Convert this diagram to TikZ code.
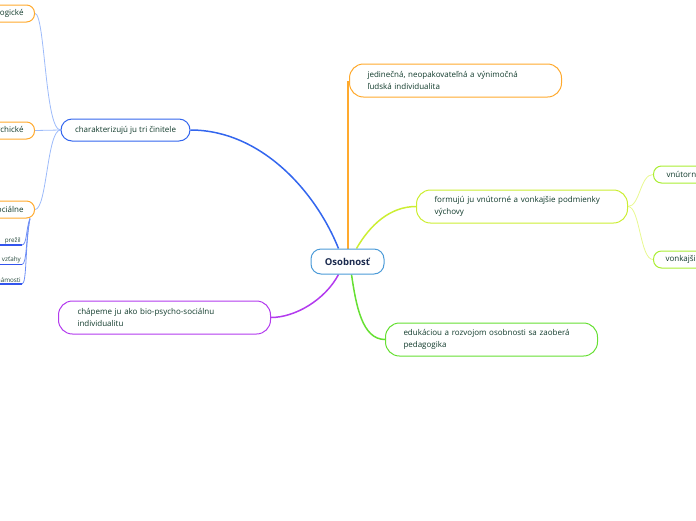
\documentclass[tikz,border=0pt]{standalone}
\usepackage{fontspec}
\setmainfont{Open Sans}
\usetikzlibrary{backgrounds}
\definecolor{txt}{HTML}{113B2C}
\definecolor{navy}{HTML}{1B2A4E}
\definecolor{cblue}{HTML}{4C9BD8}
\definecolor{dblue}{HTML}{3366EE}
\definecolor{lblue}{HTML}{9DBBFA}
\definecolor{ublue}{HTML}{3355EE}
\definecolor{mblue}{HTML}{6F8FF5}
\definecolor{orng}{HTML}{FFAA2E}
\definecolor{ylw}{HTML}{CCEE33}
\definecolor{lylw}{HTML}{E8F890}
\definecolor{lime}{HTML}{AAEE33}
\definecolor{grn}{HTML}{66E033}
\definecolor{purp}{HTML}{B33BEE}
\begin{document}
\begin{tikzpicture}[x=1pt,y=-1pt,
  base/.style={draw, fill=white, line width=1pt, text=txt, font=\fontsize{8}{11.5}\selectfont, inner ysep=0pt},
  widebox/.style={base, rounded corners=14pt, minimum height=33pt, text width=#1, align=left, inner xsep=18pt, anchor=west},
  smallbox/.style={base, rounded corners=8pt, minimum height=17pt},
  leaf/.style={font=\fontsize{6.3}{7}\selectfont, text=txt!85!gray, inner sep=1pt, anchor=south east},
  main/.style={line width=1.5pt},
  sub/.style={line width=0.8pt}
]
\useasboundingbox (0,0) rectangle (696,520);
\clip (0,0) rectangle (696,520);

\node[draw=cblue, fill=white, line width=1pt, rounded corners=10pt, minimum width=73pt, minimum height=25pt,
  font=\bfseries\fontsize{9.5}{11}\selectfont, text=navy] (c) at (347.5,261.5) {Osobnosť};

\node[smallbox, draw=dblue, minimum width=129pt, minimum height=22pt, rounded corners=11pt] (ch) at (125.5,130) {charakterizujú ju tri činitele};
\node[widebox=176pt, draw=orng] (j) at (349,80.5) {jedinečná, neopakovateľná a výnimočná\\ľudská individualita};
\node[widebox=175pt, draw=ylw] (f) at (416,206.5) {formujú ju vnútorné a vonkajšie podmienky\\výchovy};
\node[widebox=176pt, draw=grn] (e) at (385,339.5) {edukáciou a rozvojom osobnosti sa zaoberá\\pedagogika};
\node[widebox=174pt, draw=purp, inner xsep=19pt] (cp) at (58,317.5) {chápeme ju ako bio-psycho-sociálnu\\individualitu};

\node[smallbox, draw=lime, anchor=west, inner xsep=13pt, minimum width=70pt, align=left, text width=44pt] (vn) at (653,174.5) {vnútorné};
\node[smallbox, draw=lime, anchor=west, inner xsep=12pt, minimum width=70pt, align=left, text width=46pt] (vk) at (653,259.5) {vonkajšie};

\node[smallbox, draw=orng, anchor=east, inner xsep=11pt] (bio) at (35,13.5) {biologické};
\node[smallbox, draw=orng, anchor=east, inner xsep=11pt] (psy) at (35,130.5) {psychické};
\node[smallbox, draw=orng, anchor=east, inner xsep=11pt] (soc) at (35,209.5) {sociálne};

\node[leaf] (l1) at (22,245) {prežil};
\node[leaf] (l2) at (22,264.5) {vzťahy};
\node[leaf] (l3) at (22,284) {známosti};

\begin{pgfonlayer}{background}
\draw[main, dblue] ([xshift=-9pt]c.north) .. controls (315,190) and (260,130) .. (ch.east);
\draw[line width=2pt, orng] ([xshift=0.5pt]c.north) -- ([xshift=0.5pt]c.north |- j.west);
\draw[main, ylw] ([xshift=9pt]c.north) .. controls (370,225) and (390,206.5) .. (f.west);
\draw[main, grn] ([xshift=4pt]c.south) .. controls (356,305) and (362,339.5) .. (e.west);
\draw[main, purp] ([xshift=-9pt]c.south) .. controls (325,300) and (295,317.5) .. (cp.east);

\draw[sub, lylw] (f.east) .. controls (640,206.5) and (640,174.5) .. (vn.west);
\draw[sub, lylw] (f.east) .. controls (640,206.5) and (640,259.5) .. (vk.west);

\draw[sub, lblue] (ch.west) .. controls (45,130) and (45,13.5) .. (bio.east);
\draw[sub, lblue] (ch.west) .. controls (48,130) and (48,130.5) .. (psy.east);
\draw[sub, lblue] (ch.west) .. controls (47,130) and (47,209.5) .. (soc.east);

\draw[sub, mblue] ([xshift=-5pt]soc.south east) .. controls (26,228) and (27,245) .. (l1.south east);
\draw[sub, mblue] ([xshift=-5pt]soc.south east) .. controls (26,235) and (27,264.5) .. (l2.south east);
\draw[sub, mblue] ([xshift=-5pt]soc.south east) .. controls (25,245) and (27,284) .. (l3.south east);
\draw[line width=1.2pt, ublue] (l1.south east) -- ++(-30,0);
\draw[line width=1.2pt, ublue] (l2.south east) -- ++(-30,0);
\draw[line width=1.2pt, ublue] (l3.south east) -- ++(-30,0);
\end{pgfonlayer}
\end{tikzpicture}
\end{document}
